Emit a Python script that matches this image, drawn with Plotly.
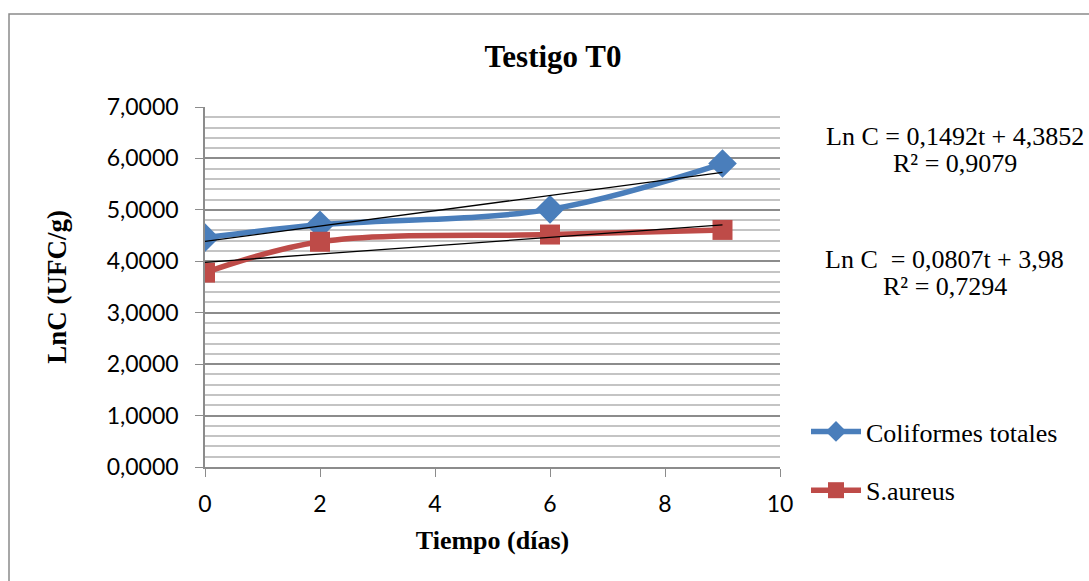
import plotly.graph_objects as go

# Time points (days) and ln of counts for each organism
tiempo = [0, 2, 6, 9]
coliformes = [4.46, 4.71, 5.01, 5.90]
s_aureus = [3.78, 4.38, 4.52, 4.61]

# Linear fits shown on the chart: (slope, intercept, R²)
fit_coli = (0.1492, 4.3852, 0.9079)
fit_sa = (0.0807, 3.98, 0.7294)

x_ticks = [0, 2, 4, 6, 8, 10]
y_ticks = [0, 1, 2, 3, 4, 5, 6, 7]

BLUE = "#4A7EBB"
RED = "#BE4B48"
SERIF = "Liberation Serif, Times New Roman, serif"
SANS = "Lato, Open Sans, sans-serif"

fig = go.Figure()

fig.add_trace(go.Scatter(
    x=tiempo, y=coliformes, name="Coliformes totales",
    mode="lines+markers", line=dict(color=BLUE, width=5.5, shape="spline"),
    marker=dict(symbol="diamond", size=22, color=BLUE),
    legendgroup="a"))
fig.add_trace(go.Scatter(
    x=tiempo, y=s_aureus, name="S.aureus",
    mode="lines+markers", line=dict(color=RED, width=5.5, shape="spline"),
    marker=dict(symbol="square", size=20, color=RED),
    legendgroup="b"))

# Trend lines from the fitted equations, drawn above the series
t_fit = [tiempo[0], tiempo[-1]]
for slope, intercept, _ in (fit_coli, fit_sa):
    fig.add_trace(go.Scatter(
        x=t_fit, y=[intercept + slope * t for t in t_fit],
        mode="lines", line=dict(color="black", width=1.3),
        showlegend=False, hoverinfo="skip"))


def eq_text(slope, intercept, spacer=""):
    s = f"{slope:.4f}".replace(".", ",")
    i = f"{intercept}".replace(".", ",")
    return f"Ln C {spacer}= {s}t + {i}"


annots = [
    (eq_text(*fit_coli[:2]), 136),
    ("R² = " + f"{fit_coli[2]:.4f}".replace(".", ","), 163),
    (eq_text(*fit_sa[:2], spacer=" "), 259),
    ("R² = " + f"{fit_sa[2]:.4f}".replace(".", ","), 286),
]
centers = [955, 955, 945, 945]
for (txt, ypix), xc in zip(annots, centers):
    fig.add_annotation(
        x=(xc - 205) / 575, y=(467 - ypix) / 360, xref="paper", yref="paper",
        text=txt, showarrow=False, xanchor="center", yanchor="middle",
        font=dict(family=SERIF, size=26, color="black"))

# Outer chart border
fig.add_shape(type="rect", xref="paper", yref="paper",
              x0=(9 - 205) / 575, x1=(1100 - 205) / 575,
              y0=(467 - 600) / 360, y1=(467 - 14) / 360,
              line=dict(color="#8a8a8a", width=1.5), layer="below")

fig.update_layout(
    width=1089, height=581,
    margin=dict(l=205, r=309, t=107, b=114),
    paper_bgcolor="white", plot_bgcolor="white",
    separators=",.",
    title=dict(text="<b>Testigo T0</b>", x=553 / 1089, xanchor="center",
               y=1 - 56 / 581, yanchor="middle",
               font=dict(family=SERIF, size=31, color="black")),
    xaxis=dict(range=[0, 10], tickvals=x_ticks, showgrid=False,
               showline=True, linecolor="#8c8c8c", linewidth=1.5,
               ticks="outside", ticklen=8, tickcolor="#8c8c8c",
               ticklabelstandoff=8,
               tickfont=dict(family=SANS, size=23, color="black"),
               zeroline=False,
               title=dict(text="<b>Tiempo (días)</b>", standoff=14,
                          font=dict(family=SERIF, size=26, color="black"))),
    yaxis=dict(range=[0, 7], tickvals=y_ticks, tickformat=".4f",
               showgrid=True, gridcolor="#8c8c8c", gridwidth=1.5,
               minor=dict(dtick=0.2, showgrid=True, gridcolor="#c4c4c4", gridwidth=1.5),
               showline=True, linecolor="#8c8c8c", linewidth=1.5,
               ticks="outside", ticklen=8, tickcolor="#8c8c8c",
               ticklabelstandoff=12,
               tickfont=dict(family=SANS, size=23, color="black"),
               zeroline=False,
               title=dict(text="<b>LnC (UFC/g)</b>", standoff=32,
                          font=dict(family=SERIF, size=27, color="black"))),
    legend=dict(x=(806 - 205) / 575, y=(467 - 408) / 360, xanchor="left", yanchor="top",
                font=dict(family=SERIF, size=26, color="black"),
                tracegroupgap=22, bgcolor="rgba(0,0,0,0)", itemwidth=50),
    showlegend=True,
)

fig.write_html("out.html")
